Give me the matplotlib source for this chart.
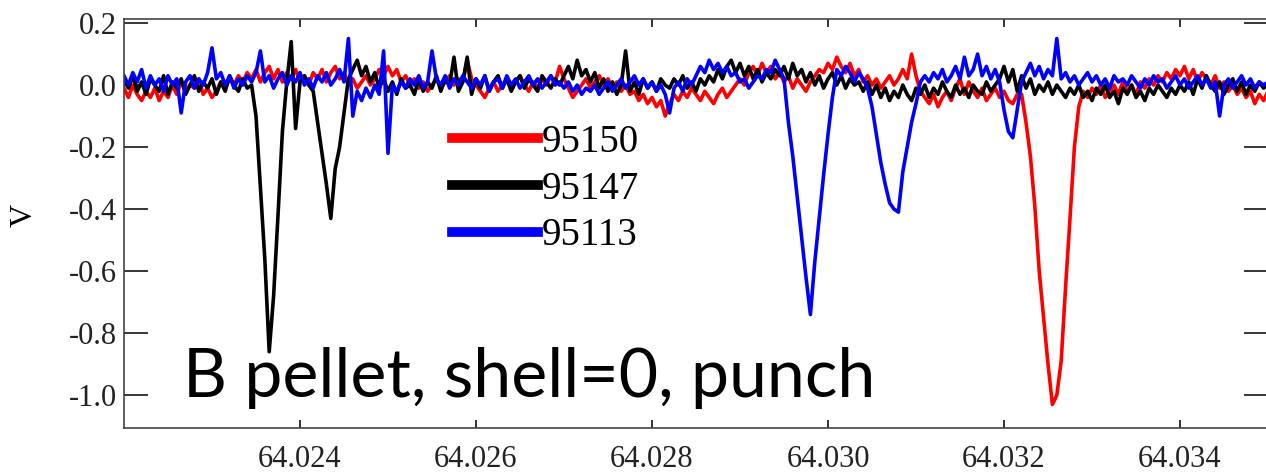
import numpy as np
import matplotlib.pyplot as plt

# time axis (s): samples every 50 us from 64.022 to 64.035
t_start = 64.022
t_stop = 64.035
n_samples = 261

# signals, in units of 0.01 V
v_95150 = [
    -1, -4, 0, -3, -5, -2, -4, -1, -5, -2, -4, 0, -3, 1, -2, 0, -1, 2, -3, -1,
    -4, -2, 1, -1, 2, 0, 3, 1, 4, 2, 5, 1, 4, 6, 2, 5, 1, 4, 2, 5,
    1, 3, 0, 4, 2, 5, 1, 4, 6, 2, 4, 0, 2, -1, 1, 3, 0, 2, 5, 3,
    6, 3, 5, 1, 3, 0, 2, -1, 1, -2, 0, 2, -1, 1, 3, 0, 2, 1, 8, 2,
    0, -2, -4, -1, 1, -2, 0, 2, -1, 1, 3, 0, -2, 1, -1, 2, 0, 3, 1, 6,
    2, -1, -4, -2, 0, 2, -1, 1, 3, 0, 2, -1, 1, -2, 0, -3, -2, -5, -3, -6,
    -4, -7, -5, -10, -6, -3, -5, -2, -4, -1, -3, -5, -2, -4, -6, -3, -1, -4, -2, 0,
    2, 0, 4, 6, 3, 7, 4, 6, 2, 4, 1, 3, -1, 2, 0, -2, 1, 3, 5, 4,
    7, 5, 9, 6, 4, 7, 3, 5, 1, 3, 0, 2, -1, 1, 3, 0, 2, 5, 2, 10,
    3, -2, -4, -6, -3, -7, -4, -2, -5, -1, 2, -3, 1, -2, -4, -1, -5, -3, -1, -4,
    -2, -5, -6, -3, -3, -12, -23, -39, -60, -75, -90, -103, -100, -89, -65, -43, -20, -7, -2, -4,
    -1, -3, 0, -4, -2, 0, -3, 1, -2, 0, -3, 1, -1, 2, 0, 3, 1, 4, 2, 5,
    3, 6, 2, 5, 1, 4, 2, 0, 3, -1, 1, -2, 0, -3, -1, -4, -2, -6, -3, -5,
    -2,
]
v_95147 = [
    2, -1, 3, -2, 1, -3, 2, 0, -2, 3, -3, 1, -1, 2, -3, 0, 3, -2, 1, -1,
    2, -3, 1, -2, 3, 0, -2, 2, -1, 0, -10, -33, -56, -86, -68, -42, -15, 1, 14, -14,
    1, 3, 0, -2, -12, -22, -32, -43, -27, -20, -9, 2, 5, 8, 3, 6, 1, 4, -1, 2,
    -2, 1, -3, 2, -1, 0, -3, 2, -2, 1, -1, 3, -2, 2, 0, 9, -2, 1, 9, -3,
    2, -1, 3, -2, 1, 3, -1, 2, -2, 1, 3, -1, 2, 0, -2, 3, 1, -1, 2, 0,
    3, 6, 2, 8, 3, 5, 1, 4, -1, 2, -2, 1, -3, 0, 11, -2, 1, -3, 2, -1,
    1, -2, 2, 0, -1, 2, 0, 3, -1, 1, -2, 2, 0, 3, 1, 5, 2, 6, 8, 4,
    7, 3, 6, 2, 5, 1, 4, 2, 5, 3, 6, 2, 7, 3, 5, 1, 4, 0, 3, -1,
    2, 4, 0, 3, -1, 2, 0, 1, -2, 1, -3, 0, -4, -1, -5, -2, -4, 0, -3, -5,
    -1, -3, 0, -4, -1, -3, 1, -2, -4, 0, -3, -1, -4, 0, -2, -3, 1, -2, 0, 2,
    6, 1, 5, -2, 3, -1, 2, -3, 0, -2, 1, -3, 0, -2, -4, -1, -3, 0, -4, -2,
    -5, -1, -3, 0, -4, -2, -6, -1, -3, 0, -4, -2, -5, -1, -3, 0, -2, -4, -1, -3,
    0, -2, 1, -3, 2, -1, 3, 0, -2, 1, -3, 0, 2, -2, 1, -3, 0, -2, 1, -1,
    0,
]
v_95113 = [
    3, 0, 4, 1, 5, -1, 3, 0, 2, -2, 3, 0, 2, -9, 1, 3, -1, 2, 0, 4,
    12, 2, 4, 0, 3, -1, 2, 0, 3, 1, 4, 11, 1, 3, -1, 2, 4, 0, 3, 1,
    4, 0, 2, -1, 3, 1, 4, 0, 2, 5, 1, 15, -10, -2, -5, -1, -4, 0, -3, 11,
    -22, 0, -2, 1, -1, 2, 0, 3, -1, 1, 11, 2, 0, 3, -1, 2, 0, 3, 1, -1,
    2, 0, 3, -2, 1, 2, -1, 3, 0, 2, -1, 1, 3, 0, 2, -1, 1, 3, 0, 1,
    -1, 1, -2, 0, -3, -1, -2, 0, -3, -1, 1, -2, 0, 2, -1, 1, 3, 0, 2, -1,
    1, -2, 0, -3, -9, -1, 1, -2, 2, 0, 3, 6, 4, 8, 5, 7, 4, 6, 3, 4,
    1, 2, -1, 1, 3, 2, 5, 4, 8, 5, 2, -12, -23, -36, -49, -62, -74, -57, -43, -29,
    -16, -4, 5, 3, 6, 4, 1, 4, 2, -1, -7, -16, -25, -32, -38, -40, -41, -28, -20, -12,
    -6, 1, 3, 1, 4, 2, 5, 1, 3, 6, 2, 9, 3, 5, 10, 3, 6, 2, 5, 1,
    -8, -15, -17, -8, 1, 4, 7, 3, 6, 2, 5, 3, 15, 2, 4, 1, 3, 0, 2, 4,
    1, 3, 0, 2, -1, 3, 1, 2, 0, 3, 1, -1, 2, 0, 3, 1, 2, -1, 1, 3,
    0, 2, -1, 1, 3, 0, 2, -1, 1, -10, 0, 2, -1, 1, 3, 0, 2, -1, 1, 0,
    1,
]

shots = ["95150", "95147", "95113"]
colors = ["red", "black", "blue"]
x_ticks = [64.024, 64.026, 64.028, 64.030, 64.032, 64.034]
y_ticks = [0.2, 0.0, -0.2, -0.4, -0.6, -0.8, -1.0]

t = np.linspace(t_start, t_stop, n_samples)

fig = plt.figure(figsize=(12.66, 4.74), dpi=100)
ax = fig.add_axes([124/1266, 46/474, 1144/1266, 409/474])

for shot, col, v in zip(shots, colors, [v_95150, v_95147, v_95113]):
    ax.plot(t, np.array(v)/100., color=col, lw=2.6, label=shot)

ax.set_xlim(t_start, t_stop)
ax.set_ylim(-1.106, 0.213)
ax.set_xticks(x_ticks)
ax.set_xticklabels(["{:.3f}".format(x) for x in x_ticks])
ax.set_yticks(y_ticks)
ax.set_yticklabels(["{:.1f}".format(y) for y in y_ticks])

serif = "Liberation Serif"
for lab in ax.get_xticklabels() + ax.get_yticklabels():
    lab.set_family(serif)
    lab.set_fontsize(22)
    lab.set_color("#222222")

ax.tick_params(axis="y", direction="in", length=17, width=1.1,
               left=True, right=True, pad=5)
ax.tick_params(axis="x", direction="in", length=6, width=1.1,
               top=True, bottom=True, pad=12)
for sp in ax.spines.values():
    sp.set_color("#444444")
    sp.set_linewidth(1.2)

ax.set_ylabel("V", family=serif, fontsize=23)
ax.yaxis.set_label_coords(-0.075, 0.52)

leg = ax.legend(loc="upper left", bbox_to_anchor=(452/1266, 1 - 124/474),
                bbox_transform=fig.transFigure, frameon=False,
                prop={"family": serif, "size": 28}, handlelength=2.2,
                handletextpad=0.1, labelspacing=0.25, borderpad=0,
                borderaxespad=0)
for line in leg.get_lines():
    line.set_linewidth(7)

fig.text(183/1266, 77/474, "B pellet, shell=0, punch", family="Lato",
         fontsize=49, va="baseline", ha="left")

plt.savefig("out.png", dpi=100)
